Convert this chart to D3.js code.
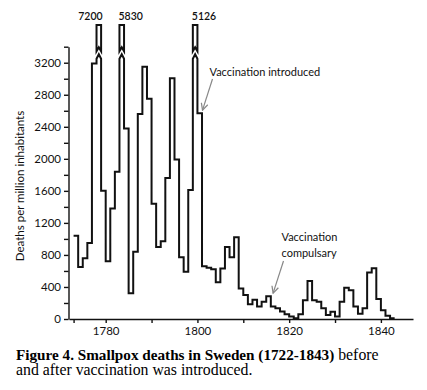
<!DOCTYPE html>
<html>
<head>
<meta charset="utf-8">
<script src="https://cdn.jsdelivr.net/npm/d3@7"></script>
<style>
  body { margin: 0; background: #fff; }
  svg { display: block; }
  .axis text { font-family: Lato, sans-serif; font-size: 11.5px; fill: #111; }
  .axis path, .axis line { stroke: #111; stroke-width: 1.4px; }
  .note { font-family: Lato, sans-serif; font-size: 11px; fill: #111; }
  .caption { font-family: 'Liberation Serif', 'Times New Roman', serif; font-size: 15.8px; fill: #000; }
</style>
</head>
<body>
<svg id="chart" width="427" height="390"></svg>
<script>
// smallpox deaths per million, value for year Y covers the span Y-1 .. Y
const years = [1774, 1775, 1776, 1777, 1778, 1779, 1780, 1781, 1782, 1783,
  1784, 1785, 1786, 1787, 1788, 1789, 1790, 1791, 1792, 1793,
  1794, 1795, 1796, 1797, 1798, 1799, 1800, 1801, 1802, 1803,
  1804, 1805, 1806, 1807, 1808, 1809, 1810, 1811, 1812, 1813,
  1814, 1815, 1816, 1817, 1818, 1819, 1820, 1821, 1822, 1823,
  1824, 1825, 1826, 1827, 1828, 1829, 1830, 1831, 1832, 1833,
  1834, 1835, 1836, 1837, 1838, 1839, 1840, 1841, 1842, 1843];
const deaths = [1040, 650, 760, 950, 3190, 7200, 1600, 720, 1380, 1840,
  5830, 2380, 320, 840, 2560, 3150, 2750, 1440, 900, 970,
  1760, 3005, 1990, 770, 590, 1610, 5126, 2570, 660, 640,
  620, 460, 630, 900, 770, 1020, 380, 300, 185, 240,
  155, 215, 285, 155, 135, 95, 60, 30, 10, 60,
  235, 475, 235, 215, 135, 50, 90, 30, 215, 390,
  360, 155, 65, 135, 580, 633, 250, 110, 40, 10];

const yTicks = [0, 400, 800, 1200, 1600, 2000, 2400, 2800, 3200];
const yMinor = [200, 600, 1000, 1400, 1800, 2200, 2600, 3000, 3400];
const xTicks = [1773, 1780, 1790, 1800, 1810, 1820, 1830, 1840];
const xLabels = [1780, 1800, 1820, 1840];
const breakValue = 3250; // columns above this are drawn broken

const svg = d3.select('#chart');
const x = d3.scaleLinear().domain([1772, 1847]).range([69, 413]);
const y = d3.scaleLinear().domain([0, 3400]).range([319, 46.7]);

// y axis
svg.append('g').attr('class', 'axis')
  .attr('transform', 'translate(68.5,0)')
  .call(d3.axisLeft(y).tickValues(yTicks).tickSize(4.5).tickPadding(3)
    .tickSizeOuter(0).tickFormat(d3.format('d')));
svg.append('g').attr('class', 'axis')
  .attr('transform', 'translate(68.5,0)')
  .call(d3.axisLeft(y).tickValues(yMinor).tickSize(4.5).tickFormat('').tickSizeOuter(0))
  .select('.domain').remove();

// x axis
svg.append('g').attr('class', 'axis')
  .attr('transform', 'translate(0,319)')
  .call(d3.axisBottom(x).tickValues(xTicks).tickSize(4).tickSizeOuter(0)
    .tickPadding(4)
    .tickFormat(d => xLabels.includes(d) ? d : ''));

svg.append('text')
  .attr('class', 'note')
  .attr('transform', 'translate(24,186) rotate(-90)')
  .attr('text-anchor', 'middle')
  .style('font-size', '11.5px')
  .text('Deaths per million inhabitants');

// step line with broken columns for the big epidemics
const topY = 25;
const path = d3.path();
const uppers = [];
years.forEach((yr, i) => {
  const x0 = x(yr - 1), x1 = x(yr), v = deaths[i];
  if (i === 0) path.moveTo(x0, y(v));
  if (v > breakValue) {
    const yb = y(breakValue);
    path.lineTo(x0, yb);
    path.lineTo((x0 + x1) / 2, yb - 4.5);
    path.lineTo(x1, yb);
    uppers.push({ x0, x1, v, yb, yr });
  } else {
    path.lineTo(x0, y(v));
    path.lineTo(x1, y(v));
  }
});

svg.append('path')
  .attr('d', path.toString())
  .attr('fill', 'none')
  .attr('stroke', '#111')
  .attr('stroke-width', 2)
  .attr('stroke-linejoin', 'miter');

uppers.forEach(u => {
  const mid = (u.x0 + u.x1) / 2;
  const yb = u.yb - 7.5;
  svg.append('path')
    .attr('d', `M${u.x0},${topY}L${u.x1},${topY}L${u.x1},${yb}L${mid},${yb - 4}L${u.x0},${yb}Z`)
    .attr('fill', '#fff')
    .attr('stroke', '#111')
    .attr('stroke-width', 2);
});

// peak labels
const peakAnchor = { 1779: 'end', 1784: 'start', 1800: 'start' };
uppers.forEach(u => {
  const anchor = peakAnchor[u.yr];
  svg.append('text')
    .attr('class', 'note')
    .attr('x', anchor === 'end' ? u.x1 + 1.5 : u.x0 - 1)
    .attr('y', 20)
    .attr('text-anchor', anchor)
    .style('font-size', '10.5px')
    .style('font-weight', 600)
    .text(u.v);
});

// annotations
svg.append('defs').append('marker')
  .attr('id', 'arr')
  .attr('viewBox', '0 0 10 10')
  .attr('refX', 9).attr('refY', 5)
  .attr('markerWidth', 7).attr('markerHeight', 7)
  .attr('orient', 'auto')
  .append('path')
  .attr('d', 'M1,1L9,5L1,9')
  .attr('fill', 'none')
  .attr('stroke', '#888')
  .attr('stroke-width', 1.5);

const intro = 1801, compulsory = 1817;
svg.append('line')
  .attr('x1', 212.5).attr('y1', 79)
  .attr('x2', x(intro) + 0.5).attr('y2', y(2570) - 3)
  .attr('stroke', '#888').attr('stroke-width', 1.2)
  .attr('marker-end', 'url(#arr)');
svg.append('text').attr('class', 'note')
  .attr('x', 209.5).attr('y', 75.5)
  .text('Vaccination introduced');

svg.append('line')
  .attr('x1', 283.5).attr('y1', 261)
  .attr('x2', x(compulsory - 0.5)).attr('y2', y(285) - 3)
  .attr('stroke', '#888').attr('stroke-width', 1.2)
  .attr('marker-end', 'url(#arr)');
svg.append('text').attr('class', 'note')
  .attr('x', 281.5).attr('y', 241)
  .text('Vaccination');
svg.append('text').attr('class', 'note')
  .attr('x', 281.5).attr('y', 257)
  .text('compulsary');

// caption
const cap = svg.append('text').attr('class', 'caption').attr('x', 16).attr('y', 359.5);
cap.append('tspan').style('font-weight', 'bold').style('font-size', '15.2px')
  .text('Figure 4. Smallpox deaths in Sweden (1722-1843)');
cap.append('tspan').text(' before');
svg.append('text').attr('class', 'caption').attr('x', 16).attr('y', 375)
  .text('and after vaccination was introduced.');
</script>
</body>
</html>
